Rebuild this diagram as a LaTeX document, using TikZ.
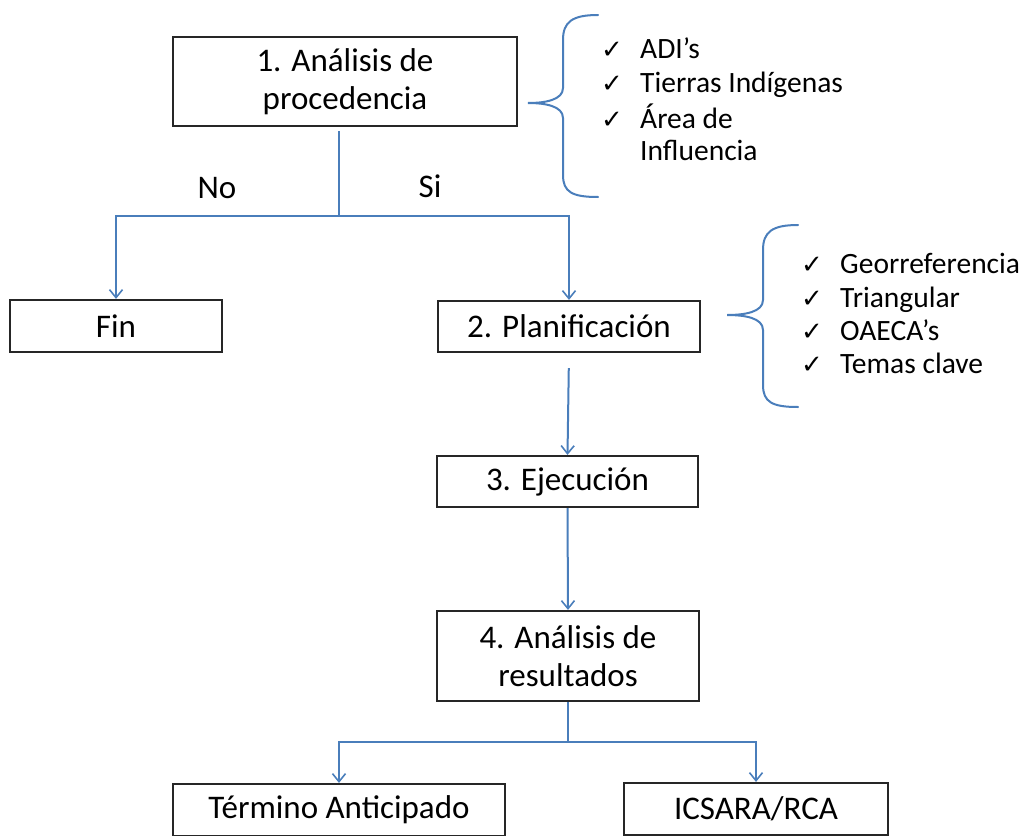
\documentclass[tikz,border=0pt]{standalone}
\usepackage{fontspec}
\setmainfont{Carlito}
\newfontfamily\symfont{DejaVu Sans}
\usetikzlibrary{arrows.meta}
\definecolor{lineblue}{HTML}{4A7EBB}
\begin{document}
\begin{tikzpicture}[x=1pt,y=-1pt,
  box/.style={draw=black!85, line width=2.2pt, fill=white, inner sep=0pt,
              font=\fontsize{33}{38}\selectfont, align=center},
  link/.style={draw=lineblue, line width=2pt},
  arr/.style={link, -{Straight Barb[length=8pt,width=13pt,line width=1.6pt]}},
  lbl/.style={font=\fontsize{33}{38}\selectfont, inner sep=0pt},
  item/.style={font=\fontsize{29.5}{34}\selectfont, anchor=base west, inner sep=0pt},
  tick/.style={font=\symfont\fontsize{26}{28}\selectfont, anchor=base west, inner sep=0pt},
  brace/.style={draw=lineblue, line width=2pt, line cap=round}]

\clip (0,0) rectangle (1027,835);

% boxes
\node[box, minimum width=344pt, minimum height=89pt] (b1) at (345,81.5) {1. Análisis de\\procedencia};
\node[box, minimum width=212pt, minimum height=52pt] (fin) at (116,326) {Fin};
\node[box, minimum width=262pt, minimum height=51pt] (plan) at (569,326.5) {2. Planificación};
\node[box, minimum width=261pt, minimum height=51pt] (e3) at (567.5,481.5) {3. Ejecución};
\node[box, minimum width=262pt, minimum height=90pt] (b4) at (568,656) {4. Análisis de\\resultados};
\node[box, minimum width=332pt, minimum height=52pt] (term) at (339,810) {Término Anticipado};
\node[box, minimum width=264pt, minimum height=52pt] (ics) at (756,809) {ICSARA/RCA};

% labels
\node[lbl] (no) at (217,188) {No};
\node[lbl] (si) at (430,186) {Si};

% connectors
\coordinate (j1) at (339,216);
\coordinate (k1) at (339,0);
\draw[link, shorten <=4pt] (b1.south -| k1) -- (j1);
\draw[arr] (j1) -| (fin.north);
\draw[arr] (j1) -| (plan.north);
\draw[arr, shorten <=15pt] (plan.south) -- (e3.north);
\draw[arr] (e3.south) -- (b4.north);
\coordinate (j2) at (568,742);
\draw[link] (b4.south) -- (j2);
\draw[arr] (j2) -| (term.north);
\draw[arr] (j2) -| (ics.north);

% brace 1
\draw[brace] (598,15) .. controls (572,15) and (563,22) .. (563,40) -- (563,88)
  .. controls (563,100) and (545,103) .. (528,103)
  .. controls (545,103) and (563,106) .. (563,118) -- (563,175)
  .. controls (563,192) and (572,197) .. (598,197);
% brace 2
\draw[brace] (798,225) .. controls (772,225) and (763,232) .. (763,250) -- (763,300)
  .. controls (763,312) and (745,315) .. (727,315)
  .. controls (745,315) and (763,318) .. (763,330) -- (763,385)
  .. controls (763,402) and (772,407) .. (798,407);

% list 1
\node[tick] (c1) at (601,58) {✓};
\node[item] (i1) at (640,58) {ADI’s};
\node[tick] (c2) at (601,92) {✓};
\node[item] (i2) at (640,92) {Tierras Indígenas};
\node[tick] (c3) at (601,128) {✓};
\node[item] (i3) at (640,128) {Área de};
\node[item] (i4) at (640,160) {Influencia};

% list 2
\node[tick] (d1) at (801,273) {✓};
\node[item] (g1) at (840,273) {Georreferencia};
\node[tick] (d2) at (801,307) {✓};
\node[item] (g2) at (840,307) {Triangular};
\node[tick] (d3) at (801,340) {✓};
\node[item] (g3) at (840,340) {OAECA’s};
\node[tick] (d4) at (801,373) {✓};
\node[item] (g4) at (840,373) {Temas clave};
\end{tikzpicture}
\end{document}
